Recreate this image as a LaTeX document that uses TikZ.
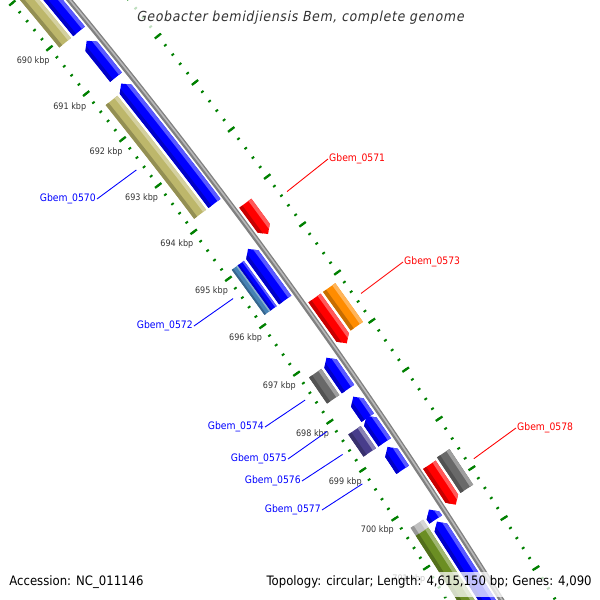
\documentclass[tikz,border=0pt]{standalone}
\usepackage{fontspec}
\setmainfont{DejaVu Sans}[FakeStretch=0.9]
\newfontfamily\titlefont{DejaVu Sans}[FakeStretch=0.9, FakeSlant=0.2, LetterSpace=5]
\usetikzlibrary{positioning,calc}
\definecolor{cgblue}{RGB}{0,0,255}
\definecolor{cgred}{RGB}{255,0,0}
\definecolor{cgkhaki}{RGB}{189,183,107}
\definecolor{cgsteel}{RGB}{70,130,180}
\definecolor{cggray}{RGB}{105,105,105}
\definecolor{cgpurple}{RGB}{72,61,139}
\definecolor{cgorange}{RGB}{255,140,0}
\definecolor{cglight}{RGB}{192,192,192}
\definecolor{cgolive}{RGB}{107,142,35}
\definecolor{cgtick}{RGB}{0,128,0}
\definecolor{cgback}{RGB}{128,128,128}
\definecolor{cgtext}{RGB}{51,51,51}
% track radii (pixels from the centre of the map)
\newcommand{\rTin}{5494}
\newcommand{\rIIa}{5502}
\newcommand{\rIIm}{5509.5}
\newcommand{\rIIb}{5517}
\newcommand{\rIa}{5520}
\newcommand{\rIb}{5535}
\newcommand{\rBack}{5540}
\newcommand{\rOa}{5545}
\newcommand{\rOb}{5560}
\newcommand{\rOOa}{5563}
\newcommand{\rOOb}{5578}
\newcommand{\rTout}{5586}
\newcommand{\tiplen}{0.075}
% plain feature: colour, start angle, end angle, inner r, outer r
\newcommand{\cgbar}[5]{%
  \pgfmathsetmacro\rhl{#5-0.25*(#5-#4)}
  \pgfmathsetmacro\rsh{#4+0.25*(#5-#4)}
  \fill[#1] (#2:#4) arc[start angle=#2, end angle=#3, radius=#4]
    -- (#3:#5) arc[start angle=#3, end angle=#2, radius=#5] -- cycle;
  \fill[#1!65!white] (#2:\rhl) arc[start angle=#2, end angle=#3, radius=\rhl]
    -- (#3:#5) arc[start angle=#3, end angle=#2, radius=#5] -- cycle;
  \fill[#1!78!black] (#2:#4) arc[start angle=#2, end angle=#3, radius=#4]
    -- (#3:\rsh) arc[start angle=#3, end angle=#2, radius=\rsh] -- cycle;}
% reverse strand gene, tip at the start angle
\newcommand{\cgrev}[5]{%
  \pgfmathsetmacro\rmid{(#4+#5)/2}
  \pgfmathsetmacro\tipa{#2+\tiplen}
  \pgfmathsetmacro\tipb{#2+0.5*\tiplen}
  \pgfmathsetmacro\rhl{#5-0.25*(#5-#4)}
  \pgfmathsetmacro\rsh{#4+0.25*(#5-#4)}
  \fill[#1] (#2:#4) -- (\tipa:\rmid) -- (#2:#5) arc[start angle=#2, end angle=#3, radius=#5]
    -- (#3:#4) arc[start angle=#3, end angle=#2, radius=#4] -- cycle;
  \fill[#1!65!white] (\tipb:\rhl) -- (#2:#5) arc[start angle=#2, end angle=#3, radius=#5]
    -- (#3:\rhl) arc[start angle=#3, end angle=#2, radius=\rhl] -- cycle;
  \fill[#1!78!black] (\tipb:\rsh) -- (#2:#4) arc[start angle=#2, end angle=#3, radius=#4]
    -- (#3:\rsh) arc[start angle=#3, end angle=#2, radius=\rsh] -- cycle;}
% forward strand gene, tip at the end angle
\newcommand{\cgfwd}[5]{%
  \pgfmathsetmacro\rmid{(#4+#5)/2}
  \pgfmathsetmacro\tipa{#3-\tiplen}
  \pgfmathsetmacro\tipb{#3-0.5*\tiplen}
  \pgfmathsetmacro\rhl{#5-0.25*(#5-#4)}
  \pgfmathsetmacro\rsh{#4+0.25*(#5-#4)}
  \fill[#1] (#2:#4) arc[start angle=#2, end angle=#3, radius=#4] -- (\tipa:\rmid)
    -- (#3:#5) arc[start angle=#3, end angle=#2, radius=#5] -- cycle;
  \fill[#1!65!white] (#2:\rhl) arc[start angle=#2, end angle=#3, radius=\rhl]
    -- (\tipb:\rhl) -- (#3:#5) arc[start angle=#3, end angle=#2, radius=#5] -- cycle;
  \fill[#1!78!black] (#2:#4) arc[start angle=#2, end angle=#3, radius=#4]
    -- (\tipb:\rsh) arc[start angle=\tipb, end angle=#2, radius=\rsh] -- cycle;}
\tikzset{
    backbone/.style={cgback, line width=3pt},
    backlight/.style={cgback!55!white, line width=0.9pt},
    tickdot/.style={cgtick, line width=1.1pt},
    ticklong/.style={cgtick, line width=1.3pt},
    kbplbl/.style={text=cgtext, font=\fontsize{5.1}{6}\selectfont, inner sep=0pt},
    genelbl/.style={font=\fontsize{5.85}{7}\selectfont, inner sep=0.5pt},
    leadred/.style={cgred, line width=0.5pt},
    leadblue/.style={cgblue, line width=0.5pt},
    veil/.style={fill=white, fill opacity=0.75},
    footer/.style={font=\fontsize{7.4}{9}\selectfont, inner sep=0pt}
}
\begin{document}
\begin{tikzpicture}[x=0.02cm, y=0.02cm]
    \useasboundingbox (0,0) rectangle (600,600);
    \clip (0,0) rectangle (600,600);

    \begin{scope}[shift={(-4200,-2930)}]
        % tick rings
        \foreach \i in {0,...,70}{
            \pgfmathsetmacro\a{40.0608-0.1218*\i}
            \draw[tickdot] (\a:5492.5) -- (\a:5495.5);
            \draw[tickdot] (\a:5584.5) -- (\a:5587.5);
        }
        \foreach \k in {689,...,702}{
            \pgfmathsetmacro\a{39.33-0.609*(\k-690)}
            \draw[ticklong] (\a:5490) -- (\a:5498);
            \draw[ticklong] (\a:5582) -- (\a:5590);
        }
        \foreach \k in {690,...,701}{
            \pgfmathsetmacro\a{39.33-0.609*(\k-690)}
            \node[kbplbl] (kbp\k) at (\a:5473) {\k\ kbp};
        }

        % backbone
        \draw[backbone] (40.6:\rBack) arc[start angle=40.6, end angle=31.2, radius=\rBack];
        \draw[backlight] (40.6:5540.5) arc[start angle=40.6, end angle=31.2, radius=5540.5];

        % reverse strand genes
        \cgrev{cgblue}{40.8}{39.27}{\rIa}{\rIb}
        \cgrev{cgblue}{39.07}{38.66}{\rIa}{\rIb}
        \cgrev{cgblue}{38.50}{37.00}{\rIa}{\rIb}
        \cgrev{cgblue}{36.34}{35.76}{\rIa}{\rIb}
        \cgrev{cgblue}{34.95}{34.63}{\rIa}{\rIb}
        \cgrev{cgblue}{34.46}{34.27}{\rIa}{\rIb}
        \cgrev{cgblue}{34.22}{33.96}{\rIa}{\rIb}
        \cgrev{cgblue}{33.83}{33.62}{\rIa}{\rIb}
        \cgrev{cgblue}{33.05}{33.00}{\rIa}{\rIb}
        \cgrev{cgblue}{32.90}{31.00}{\rIa}{\rIb}

        % reverse strand COG classes
        \cgbar{cgkhaki}{40.8}{39.27}{\rIIa}{\rIIb}
        \cgbar{cgkhaki}{38.50}{37.00}{\rIIa}{\rIIb}
        \cgbar{cgsteel}{36.34}{35.76}{\rIIa}{\rIIm}
        \cgbar{cgblue}{36.34}{35.76}{\rIIm}{\rIIb}
        \cgbar{cggray}{34.96}{34.63}{\rIIa}{\rIIb}
        \cgbar{cgpurple}{34.24}{33.96}{\rIIa}{\rIIb}
        \cgbar{cglight}{33.07}{32.97}{\rIIa}{\rIIb}
        \cgbar{cgolive}{32.97}{31.00}{\rIIa}{\rIIb}

        % forward strand genes and COG classes
        \cgfwd{cgred}{36.81}{36.49}{\rOa}{\rOb}
        \cgfwd{cgred}{35.60}{35.10}{\rOa}{\rOb}
        \cgfwd{cgred}{33.51}{33.09}{\rOa}{\rOb}
        \cgbar{cgorange}{35.60}{35.11}{\rOOa}{\rOOb}
        \cgbar{cggray}{33.53}{33.09}{\rOOa}{\rOOb}

        % leader line ends
        \coordinate (p0571) at (36.65:5593);
        \coordinate (p0573) at (35.36:5593);
        \coordinate (p0578) at (33.31:5593);
        \coordinate (p0570) at (37.77:5486);
        \coordinate (p0572) at (36.09:5486);
        \coordinate (p0574) at (34.79:5486);
        \coordinate (p0575) at (34.39:5486);
        \coordinate (p0576) at (34.10:5486);
        \coordinate (p0577) at (33.73:5486);
    \end{scope}

    % gene labels
    \node[genelbl, text=cgred, anchor=west] (l0571) at (328,441) {Gbem\_0571};
    \node[genelbl, text=cgred, anchor=west] (l0573) at (403,338) {Gbem\_0573};
    \node[genelbl, text=cgred, anchor=west] (l0578) at (516,172) {Gbem\_0578};
    \node[genelbl, text=cgblue, anchor=east] (l0570) at (97,401) {Gbem\_0570};
    \node[genelbl, text=cgblue, anchor=east] (l0572) at (194,274) {Gbem\_0572};
    \node[genelbl, text=cgblue, anchor=east] (l0574) at (265,173) {Gbem\_0574};
    \node[genelbl, text=cgblue, anchor=east] (l0575) at (288,141) {Gbem\_0575};
    \node[genelbl, text=cgblue, anchor=east] (l0576) at (302,119) {Gbem\_0576};
    \node[genelbl, text=cgblue, anchor=east] (l0577) at (322,90) {Gbem\_0577};
    \draw[leadred] (p0571) -- (l0571.west);
    \draw[leadred] (p0573) -- (l0573.west);
    \draw[leadred] (p0578) -- (l0578.west);
    \draw[leadblue] (l0570.east) -- (p0570);
    \draw[leadblue] (l0572.east) -- (p0572);
    \draw[leadblue] (l0574.east) -- (p0574);
    \draw[leadblue] (l0575.east) -- (p0575);
    \draw[leadblue] (l0576.east) -- (p0576);
    \draw[leadblue] (l0577.east) -- (p0577);

    % title and legend
    \fill[veil] (133,567) rectangle (468,597);
    \fill[veil] (256,3) rectangle (597,28);
    \node[text=cgtext, font=\titlefont\fontsize{7.9}{9}\selectfont] (title) at (300,582) {Geobacter bemidjiensis Bem, complete genome};
    \node[footer, anchor=west] (acc) at (9,18) {Accession: NC\_011146};
    \node[footer, anchor=east] (topo) at (592,18) {Topology: circular; Length: 4,615,150 bp; Genes: 4,090};
\end{tikzpicture}
\end{document}
